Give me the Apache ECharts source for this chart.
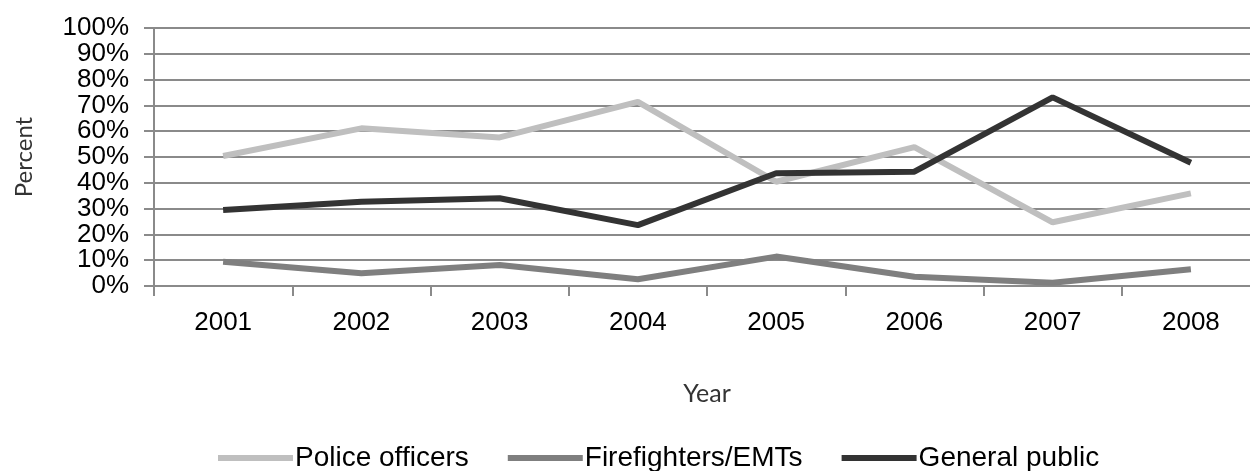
<!DOCTYPE html>
<html>
<head>
<meta charset="utf-8">
<script src="https://cdn.jsdelivr.net/npm/echarts@6/dist/echarts.min.js"></script>
<style>
html,body{margin:0;padding:0;background:#fff;}
#chart{width:1250px;height:471px;}
</style>
</head>
<body>
<div id="chart"></div>
<script>
const years = ['2001','2002','2003','2004','2005','2006','2007','2008'];
const policeOfficers = [50.4, 61.1, 57.6, 71.4, 40.4, 53.8, 24.7, 35.9];
const firefighters = [9.4, 4.9, 8.1, 2.6, 11.4, 3.6, 1.3, 6.5];
const generalPublic = [29.5, 32.7, 34.0, 23.6, 43.7, 44.3, 73.1, 47.8];
const seriesNames = ['Police officers', 'Firefighters/EMTs', 'General public'];
const seriesColors = ['#bfbfbf', '#7f7f7f', '#333333'];

const chart = echarts.init(document.getElementById('chart'), null, {renderer: 'canvas'});
const gridColor = '#8a8a8a';
const tickFont = 'Liberation Sans, Arial, sans-serif';
const titleFont = 'Lato, Open Sans, sans-serif';

// Two overlaid y axes share the same scale; each prints every other tick label
// so ECharts' min/max overlap check never drops a label.
function yLabel(parity) {
  return function (v) { return (Math.round(v / 10) % 2 === parity) ? v + '%' : ''; };
}
const yLabelStyle = {fontFamily: tickFont, fontSize: 26, color: '#000', margin: 25, showMaxLabel: true, showMinLabel: true, hideOverlap: false};

chart.setOption({
  animation: false,
  backgroundColor: '#ffffff',
  grid: {left: 154, top: 28, width: 1106, bottom: 185, containLabel: false, outerBoundsMode: 'none'},
  legend: {
    left: 218, top: 444, padding: 0,
    itemWidth: 75, itemHeight: 6, itemGap: 39,
    icon: 'rect',
    textStyle: {fontFamily: tickFont, fontSize: 28, color: '#000', padding: [0,0,0,-3]},
    data: seriesNames
  },
  xAxis: {
    type: 'category',
    data: years,
    boundaryGap: true,
    name: 'Year',
    nameLocation: 'middle',
    nameGap: 95,
    nameTextStyle: {fontFamily: titleFont, fontSize: 25, color: '#333'},
    axisLine: {show: true, lineStyle: {color: gridColor, width: 2}},
    axisTick: {show: true, alignWithLabel: false, length: 10, lineStyle: {color: gridColor, width: 2}},
    axisLabel: {fontFamily: tickFont, fontSize: 26, color: '#000', margin: 24}
  },
  yAxis: [
    {
      type: 'value',
      min: 0, max: 100, interval: 10,
      position: 'left',
      name: 'Percent',
      nameLocation: 'middle',
      nameGap: 118,
      nameTextStyle: {fontFamily: titleFont, fontSize: 24, color: '#333'},
      axisLine: {show: true, lineStyle: {color: gridColor, width: 2}},
      axisTick: {show: true, length: 10, lineStyle: {color: gridColor, width: 2}},
      splitLine: {show: true, lineStyle: {color: gridColor, width: 2}},
      axisLabel: Object.assign({formatter: yLabel(0)}, yLabelStyle)
    },
    {
      type: 'value',
      min: 0, max: 100, interval: 10,
      position: 'left',
      offset: 0,
      axisLine: {show: false},
      axisTick: {show: false},
      splitLine: {show: false},
      axisLabel: Object.assign({formatter: yLabel(1)}, yLabelStyle)
    }
  ],
  series: [
    {name: seriesNames[0], type: 'line', data: policeOfficers, symbol: 'none', color: seriesColors[0], lineStyle: {width: 6, color: seriesColors[0]}},
    {name: seriesNames[1], type: 'line', data: firefighters, symbol: 'none', color: seriesColors[1], lineStyle: {width: 6, color: seriesColors[1]}},
    {name: seriesNames[2], type: 'line', data: generalPublic, symbol: 'none', color: seriesColors[2], lineStyle: {width: 6, color: seriesColors[2]}}
  ]
});
</script>
</body>
</html>
